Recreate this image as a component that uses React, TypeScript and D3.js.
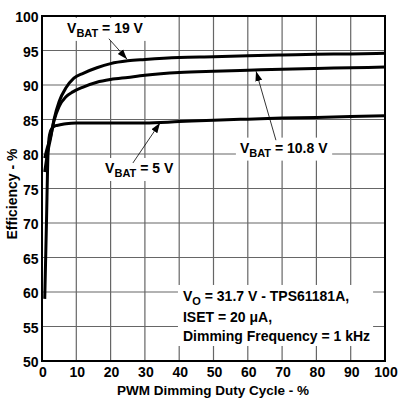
import { useEffect, useRef } from "react";
import * as d3 from "d3";

// ---------------------------------------------------------------------------
// Data
// ---------------------------------------------------------------------------

const xTicks = [0, 10, 20, 30, 40, 50, 60, 70, 80, 90, 100];
const yTicks = [50, 55, 60, 65, 70, 75, 80, 85, 90, 95, 100];

const duty19 = [0.8, 1.5, 2.5, 3.5, 5, 7, 9.3, 12, 16, 20, 25, 30, 40, 50, 60, 70, 80, 90, 100];
const eff19 = [77.4, 79.8, 82.3, 85, 87.6, 89.6, 91.0, 91.7, 92.5, 93.1, 93.5, 93.7, 94.0, 94.1, 94.25, 94.35, 94.45, 94.5, 94.6];

const duty108 = [0.8, 1.5, 2.5, 3.5, 5, 7, 9, 12, 16, 20, 25, 30, 40, 50, 60, 70, 80, 90, 100];
const eff108 = [79.4, 80.8, 82.5, 84.8, 86.9, 88.3, 89.0, 89.7, 90.4, 90.8, 91.1, 91.4, 91.8, 92.0, 92.15, 92.3, 92.4, 92.5, 92.6];

const duty5 = [0.8, 1.3, 1.75, 2.2, 3, 4, 5, 7, 10, 15, 20, 30, 40, 50, 60, 70, 80, 90, 100];
const eff5 = [59, 70, 80, 82.8, 83.8, 84.1, 84.2, 84.4, 84.5, 84.5, 84.5, 84.5, 84.7, 84.9, 85.05, 85.2, 85.3, 85.45, 85.55];

const series = [
  { duty: duty19, eff: eff19 },
  { duty: duty108, eff: eff108 },
  { duty: duty5, eff: eff5 },
];

// annotation: label anchor (data coords), arrow from -> to (data coords)
const labels = [
  { vbat: "19 V", at: [7.3, 97.55], from: [19.5, 96.7], to: [24.8, 93.75] },
  { vbat: "10.8 V", at: [57.7, 80.2], from: [68.2, 82.0], to: [62.4, 92.0] },
  { vbat: "5 V", at: [18.4, 77.25], from: [26.5, 78.7], to: [34.4, 84.5] },
];

const noteLines = ["= 31.7 V - TPS61181A,", "ISET = 20 \u03bcA,", "Dimming Frequency = 1 kHz"];
const noteBaselines = [58.7, 55.6, 52.9];

const FONT = "'Liberation Sans', Arial, Helvetica, sans-serif";
const W = 398;
const H = 405;

export default function App() {
  const svgRef = useRef<SVGSVGElement>(null);

  useEffect(() => {
    const svg = d3.select(svgRef.current);
    svg.selectAll("*").remove();

    const x = d3.scaleLinear().domain([0, 100]).range([42, 385]);
    const y = d3.scaleLinear().domain([50, 100]).range([361, 16]);

    svg
      .append("defs")
      .append("marker")
      .attr("id", "ah")
      .attr("viewBox", "0 0 10 10")
      .attr("refX", 10)
      .attr("refY", 5)
      .attr("markerWidth", 10)
      .attr("markerHeight", 10)
      .attr("markerUnits", "userSpaceOnUse")
      .attr("orient", "auto")
      .append("path")
      .attr("d", "M0,1.5 L10,5 L0,8.5 Z")
      .attr("fill", "#000");

    // ---- grid ----
    const grid = svg.append("g").attr("stroke", "#666").attr("stroke-width", 1.2);
    xTicks.slice(1, -1).forEach((t) => {
      grid.append("line").attr("x1", x(t)).attr("x2", x(t)).attr("y1", y(50)).attr("y2", y(100));
    });
    yTicks.slice(1, -1).forEach((t) => {
      grid.append("line").attr("x1", x(0)).attr("x2", x(100)).attr("y1", y(t)).attr("y2", y(t));
    });

    // ---- labels with white backgrounds ----
    const ann = svg.append("g").attr("font-family", FONT).attr("font-weight", "bold");

    labels.forEach((l) => {
      const g = ann.append("g");
      const t = g
        .append("text")
        .attr("x", x(l.at[0]))
        .attr("y", y(l.at[1]))
        .attr("font-size", 14)
        .attr("fill", "#000");
      t.append("tspan").text("V");
      t.append("tspan").attr("font-size", 11).attr("dy", 4).text("BAT");
      t.append("tspan").attr("dy", -4).text(" = " + l.vbat);
      const bb = (t.node() as SVGTextElement).getBBox();
      g.insert("rect", "text")
        .attr("x", bb.x - 4)
        .attr("y", bb.y - 2)
        .attr("width", bb.width + 8)
        .attr("height", bb.height + 4)
        .attr("fill", "#fff");
    });

    // conditions text block
    const note = ann.append("g");
    const nx = x(41.1);
    noteLines.forEach((line, i) => {
      const t = note
        .append("text")
        .attr("x", nx)
        .attr("y", y(noteBaselines[i]))
        .attr("font-size", 14)
        .attr("fill", "#000");
      if (i === 0) {
        t.append("tspan").text("V");
        t.append("tspan").attr("font-size", 11).attr("dy", 4).text("O");
        t.append("tspan").attr("dy", -4).text(" " + line);
      } else {
        t.text(line);
      }
    });
    const nb = (note.node() as SVGGElement).getBBox();
    note
      .insert("rect", "text")
      .attr("x", nb.x - 5)
      .attr("y", nb.y - 3)
      .attr("width", nb.width + 8)
      .attr("height", nb.height + 5)
      .attr("fill", "#fff");

    // ---- arrows ----
    labels.forEach((l) => {
      svg
        .append("line")
        .attr("x1", x(l.from[0]))
        .attr("y1", y(l.from[1]))
        .attr("x2", x(l.to[0]))
        .attr("y2", y(l.to[1]))
        .attr("stroke", "#000")
        .attr("stroke-width", 0.8)
        .attr("marker-end", "url(#ah)");
    });

    // ---- curves ----
    const line = d3
      .line<[number, number]>()
      .x((d) => x(d[0]))
      .y((d) => y(d[1]))
      .curve(d3.curveMonotoneX);

    series.forEach((s) => {
      const pts = s.duty.map((d, i) => [d, s.eff[i]] as [number, number]);
      svg
        .append("path")
        .attr("d", line(pts))
        .attr("fill", "none")
        .attr("stroke", "#000")
        .attr("stroke-width", 3)
        .attr("stroke-linejoin", "round");
    });

    // ---- frame ----
    svg
      .append("rect")
      .attr("x", x(0))
      .attr("y", y(100))
      .attr("width", x(100) - x(0))
      .attr("height", y(50) - y(100))
      .attr("fill", "none")
      .attr("stroke", "#000")
      .attr("stroke-width", 2);

    // ---- tick labels ----
    const ticks = svg.append("g").attr("font-family", FONT).attr("font-weight", "bold").attr("font-size", 14);
    yTicks.forEach((t) => {
      ticks
        .append("text")
        .attr("x", 38.5)
        .attr("y", y(t) + 6)
        .attr("text-anchor", "end")
        .text(t);
    });
    xTicks.forEach((t) => {
      ticks
        .append("text")
        .attr("x", x(t) + 1)
        .attr("y", 377)
        .attr("text-anchor", "middle")
        .text(t);
    });

    // ---- axis titles ----
    ticks
      .append("text")
      .attr("x", 213)
      .attr("y", 395)
      .attr("font-size", 13.5)
      .attr("text-anchor", "middle")
      .text("PWM Dimming Duty Cycle - %");
    ticks
      .append("text")
      .attr("transform", `translate(17,194) rotate(-90)`)
      .attr("text-anchor", "middle")
      .text("Efficiency - %");
  }, []);

  return (
    <svg
      ref={svgRef}
      width={W}
      height={H}
      style={{ position: "absolute", left: 0, top: 0, background: "#fff" }}
    />
  );
}
